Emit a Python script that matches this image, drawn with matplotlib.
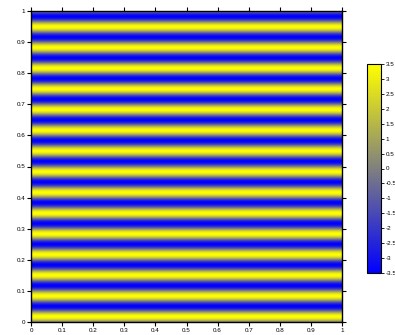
import numpy as np
import matplotlib.pyplot as plt
from matplotlib.colors import LinearSegmentedColormap

plt.rcParams['font.family'] = ['Liberation Sans', 'DejaVu Sans']

# field: horizontal stripes, 15 periods over y in [0, 1],
# first yellow band centred near y = 0.017
amplitude = 3.5
n_periods = 15
x_ticks = [0, 0.1, 0.2, 0.3, 0.4, 0.5, 0.6, 0.7, 0.8, 0.9, 1]
y_ticks = [0, 0.1, 0.2, 0.3, 0.4, 0.5, 0.6, 0.7, 0.8, 0.9, 1]
cbar_ticks = [-3.5, -3, -2.5, -2, -1.5, -1, -0.5, 0, 0.5, 1, 1.5, 2, 2.5, 3, 3.5]

x = np.linspace(0, 1, 200)
y = np.linspace(0, 1, 600)
X, Y = np.meshgrid(x, y)
Z = amplitude * np.sin(2 * np.pi * n_periods * Y)

cmap = LinearSegmentedColormap.from_list('by', ['#0000ff', '#ffff00'])

fig = plt.figure(figsize=(3.95, 3.35), dpi=100)
ax = fig.add_axes([31 / 395, 13 / 335, 311 / 395, 311 / 335])
im = ax.imshow(Z, origin='lower', extent=[0, 1, 0, 1], aspect='auto',
               cmap=cmap, vmin=-3.5, vmax=3.5, interpolation='bilinear')
ax.set_xticks(x_ticks)
ax.set_yticks(y_ticks)
ax.set_xticklabels([f'{t:g}' for t in x_ticks])
ax.set_yticklabels([f'{t:g}' for t in y_ticks])
ax.tick_params(direction='out', length=3, width=0.8, labelsize=4.5,
               top=True, right=True, pad=1)
for s in ax.spines.values():
    s.set_linewidth(1.0)

cax = fig.add_axes([367 / 395, 62 / 335, 14 / 395, 209 / 335])
cb = fig.colorbar(im, cax=cax, ticks=cbar_ticks)
cb.ax.set_yticklabels([f'{t:g}' for t in cbar_ticks])
cb.ax.tick_params(direction='out', length=2.5, width=0.6, labelsize=4.5, pad=1)
cb.outline.set_linewidth(0.8)

fig.savefig('out.png', dpi=100)
